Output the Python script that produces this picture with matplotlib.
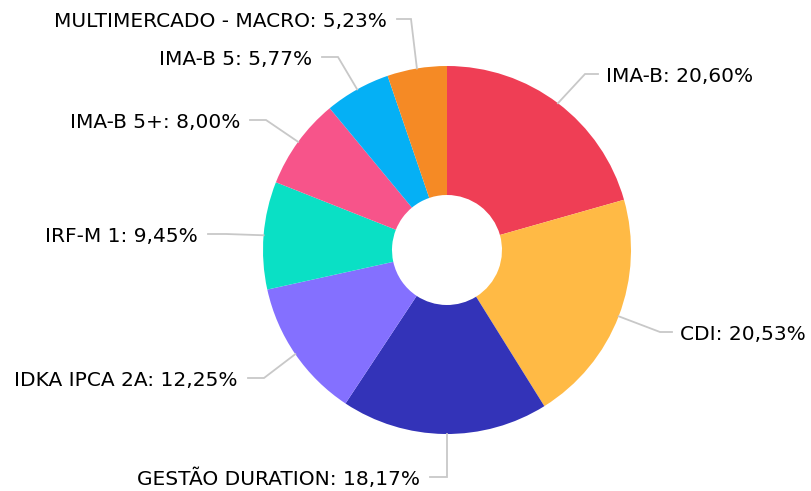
import numpy as np
import matplotlib.pyplot as plt

# data
labels = ["IMA-B", "CDI", "GESTÃO DURATION", "IDKA IPCA 2A", "IRF-M 1",
          "IMA-B 5+", "IMA-B 5", "MULTIMERCADO - MACRO"]
values = [20.60, 20.53, 18.17, 12.25, 9.45, 8.00, 5.77, 5.23]
colors = ["#EF3E55", "#FFBA45", "#3333B8", "#8470FF", "#0AE0C5",
          "#F7548A", "#05B0F5", "#F58A25"]

# label layout (image pixel coords, y down)
elbow_x = [585, 660, 447, 264, 226, 266, 338, 411]
elbow_y = [74, 332, 477, 378, 234, 120, 57, 19]
end_x = [598, 672, 430, 248, 208, 250, 322, 397]

W, H = 811, 491
cx, cy, R, hole = 447, 250, 184, 55

fig = plt.figure(figsize=(W / 100, H / 100), dpi=100)
ax = fig.add_axes([0, 0, 1, 1])

ax.pie(values, colors=colors, startangle=90, counterclock=False,
       radius=R, center=(cx, H - cy),
       wedgeprops=dict(width=R - hole, linewidth=0))

ax.set_xlim(0, W)
ax.set_ylim(0, H)
ax.set_aspect("equal")
ax.axis("off")

# connectors and labels
total = sum(values)
cum = np.cumsum([0] + values)
for i, (name, v) in enumerate(zip(labels, values)):
    mid = (cum[i] + v / 2) / total * 360
    theta = np.deg2rad(90 - mid)
    ax_x = cx + R * np.cos(theta)
    ax_y = H - (cy - R * np.sin(theta))
    ex, ey = elbow_x[i], H - elbow_y[i]
    if i == 2:
        ax_x = ex
    ax.plot([ax_x, ex, end_x[i]], [ax_y, ey, ey], color="#C8C8C8", lw=1.3,
            solid_joinstyle="miter")
    right = end_x[i] > ex
    tx = end_x[i] + (8 if right else -10)
    txt = f"{name}: {v:.2f}%".replace(".", ",")
    ax.text(tx, ey - 2, txt, ha="left" if right else "right", va="center",
            fontsize=14.5, color="#000000", family="DejaVu Sans")

fig.savefig("out.png", dpi=100)
